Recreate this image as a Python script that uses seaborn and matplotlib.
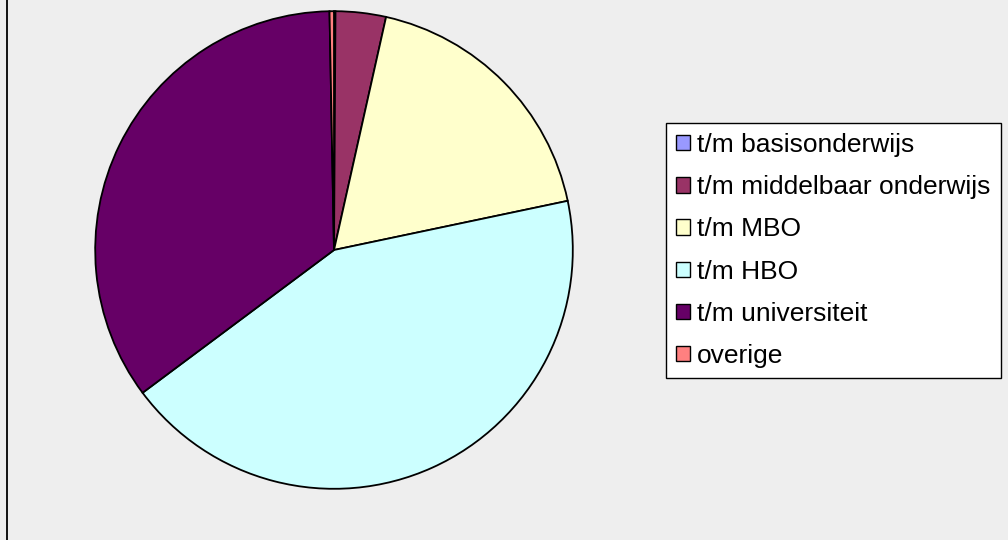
import matplotlib
matplotlib.use("Agg")
import matplotlib.pyplot as plt
from matplotlib.patches import Patch
from matplotlib.lines import Line2D
import seaborn as sns

categories = ["t/m basisonderwijs", "t/m middelbaar onderwijs", "t/m MBO",
              "t/m HBO", "t/m universiteit", "overige"]
values = [0.1, 3.4, 18.2, 43.1, 34.9, 0.3]
colors = ["#9999FF", "#993366", "#FFFFCC", "#CCFFFF", "#660066", "#FF8080"]

sns.set_style("white")
plt.rcParams["font.family"] = ["Liberation Sans", "DejaVu Sans"]
palette = sns.color_palette(colors)

W, H = 1008, 540
fig = plt.figure(figsize=(W / 100, H / 100), dpi=100)
fig.patch.set_facecolor("#EEEEEE")

ax = fig.add_axes([94 / W, 50 / H, 480 / W, 480 / H])
ax.set_facecolor("#EEEEEE")
wedges, _ = ax.pie(values, colors=palette, startangle=90, counterclock=False,
                   radius=1.0,
                   wedgeprops=dict(edgecolor="black", linewidth=1.3))
ax.set_xlim(-1.005, 1.005)
ax.set_ylim(-1.005, 1.005)
ax.set_aspect("equal")
ax.axis("off")

# left border line of chart area
fig.add_artist(Line2D([6.5 / W, 6.5 / W], [0, 1], color="black", lw=1.3,
                      transform=fig.transFigure))

handles = [Patch(facecolor=c, edgecolor="black", linewidth=1.0) for c in palette]
leg = fig.legend(handles, categories, loc="upper left",
                 bbox_to_anchor=(666 / W, 1 - 123 / H),
                 fontsize=19, frameon=True, fancybox=False, labelcolor="black",
                 handlelength=0.53, handleheight=0.53, handletextpad=0.27,
                 labelspacing=0.69, borderpad=0.38, borderaxespad=0.0)
fr = leg.get_frame()
fr.set_edgecolor("black")
fr.set_linewidth(1.0)
fr.set_facecolor("white")
fr.set_alpha(1.0)

fig.savefig("out.png", dpi=100, facecolor=fig.get_facecolor())
